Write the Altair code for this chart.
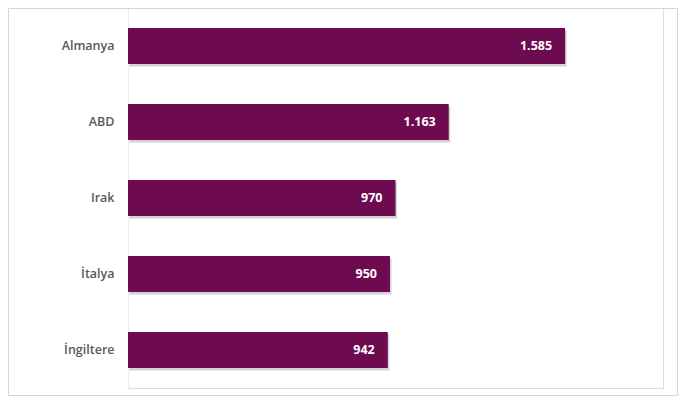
import altair as alt
import pandas as pd

countries = ["Almanya", "ABD", "Irak", "İtalya", "İngiltere"]
values = [1585, 1163, 970, 950, 942]
labels = [f"{v:,}".replace(",", ".") for v in values]

df = pd.DataFrame({"country": countries, "value": values, "label": labels})

W = 535
H = 380
XMAX = 1940

y_enc = alt.Y("country:N", sort=countries, title=None,
              scale=alt.Scale(paddingInner=0.526, paddingOuter=0.263),
              axis=alt.Axis(labelFont="Open Sans", labelFontSize=12.5, labelColor="#595959",
                            labelPadding=14, ticks=False, domainColor="#ececec",
                            labelFontWeight=600))
x_scale = alt.Scale(domain=[0, XMAX], nice=False, zero=True)

base = alt.Chart(df)

border = base.mark_rect(fill=None, stroke="#d6d6d6", strokeWidth=1).encode(
    x=alt.value(-119.5), x2=alt.value(W + 14.5), y=alt.value(0.5), y2=alt.value(H + 7.5)
).transform_filter(alt.datum.country == "Almanya")

shadow = base.mark_bar(color="#7f7f7f", opacity=0.35, xOffset=1.5, yOffset=2.5).encode(
    y=y_enc,
    x=alt.X("value:Q", scale=x_scale, axis=None),
)

bars = base.mark_bar(color="#6e0b50").encode(
    y=y_enc,
    x=alt.X("value:Q", scale=x_scale, axis=None),
)

text = base.mark_text(align="right", baseline="middle", dx=-13, color="white",
                      font="Open Sans", fontSize=12.5, fontWeight="bold").encode(
    y=alt.Y("country:N", sort=countries),
    x=alt.X("value:Q", scale=x_scale),
    text="label:N",
)

chart = alt.layer(border, shadow, bars, text).properties(
    width=W, height=H,
    padding={"left": 120, "top": 0, "right": 15, "bottom": 9},
    autosize=alt.AutoSizeParams(type="none"),
).configure_view(stroke=None).configure(background="white")

chart.save("out.html", embed_options={"renderer": "svg", "actions": False})
